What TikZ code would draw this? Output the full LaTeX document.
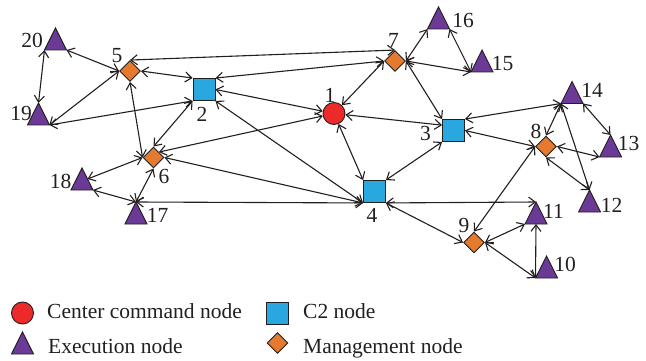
\documentclass[tikz,border=0pt]{standalone}
\usepackage{fontspec}
\setmainfont{Liberation Serif}
\usetikzlibrary{shapes.geometric,arrows.meta,backgrounds}
\definecolor{cred}{HTML}{EC2A2A}
\definecolor{cblue}{HTML}{29A8E0}
\definecolor{cpurple}{HTML}{6B3A97}
\definecolor{corange}{HTML}{E47A2E}
\definecolor{cline}{HTML}{231F20}
\begin{document}
\begin{tikzpicture}[x=1pt,y=-1pt,
  every node/.style={font=\fontsize{21.5}{24}\selectfont, text=cline},
  lbl/.style={inner sep=0pt},
  legtxt/.style={inner sep=0pt, anchor=base west},
  cc/.style={circle, draw=cline, line width=0.9pt, fill=cred, minimum size=22pt, inner sep=0pt},
  c2/.style={rectangle, draw=cline, line width=0.9pt, fill=cblue, minimum size=22pt, inner sep=0pt},
  mg/.style={diamond, draw=cline, line width=0.9pt, fill=corange, minimum size=21pt, inner sep=0pt},
  lnk/.style={draw=cline, line width=1.1pt, {Straight Barb[length=6.5pt,width=10pt]}-{Straight Barb[length=6.5pt,width=10pt]}},
  tri/.pic={\filldraw[fill=cpurple, draw=cline, line width=0.9pt] (0,-11) -- (11,11) -- (-11,11) -- cycle;
     \coordinate (-a) at (0,-11); \coordinate (-l) at (-11,11); \coordinate (-r) at (11,11);
     \coordinate (-b) at (0,11); \coordinate (-e) at (5.5,0); \coordinate (-w) at (-5.5,0);}
]
\useasboundingbox (0,0) rectangle (646,361);

% command / C2 / management nodes
\node[cc] (n1) at (334,113.5) {};
\node[c2] (n2) at (204,89.5) {};
\node[c2] (n3) at (453.5,130.5) {};
\node[c2] (n4) at (374.5,191.5) {};
\node[mg] (n5) at (130,71) {};
\node[mg] (n6) at (153.5,157.5) {};
\node[mg] (n7) at (395,61) {};
\node[mg] (n8) at (546,146.5) {};
\node[mg] (n9) at (474,242.5) {};

% execution nodes
\pic (t10) at (546.5,267) {tri};
\pic (t11) at (536,213) {tri};
\pic (t12) at (589.5,201) {tri};
\pic (t13) at (610.5,146) {tri};
\pic (t14) at (572,92.5) {tri};
\pic (t15) at (482,61) {tri};
\pic (t16) at (438.5,18) {tri};
\pic (t17) at (136,213) {tri};
\pic (t18) at (82,179) {tri};
\pic (t19) at (38.5,114) {tri};
\pic (t20) at (55.5,39) {tri};

% labels
\node[lbl] (l1) at (330,95) {1};
\node[lbl] (l2) at (202,114.5) {2};
\node[lbl] (l3) at (425.5,133) {3};
\node[lbl] (l4) at (372,215) {4};
\node[lbl] (l5) at (117,56) {5};
\node[lbl] (l6) at (164,176.5) {6};
\node[lbl] (l7) at (393.5,40) {7};
\node[lbl] (l8) at (536,131.5) {8};
\node[lbl] (l9) at (464,225) {9};
\node[lbl] (l10) at (565,264.5) {10};
\node[lbl] (l11) at (553.5,211) {11};
\node[lbl] (l12) at (611.5,205) {12};
\node[lbl] (l13) at (628.5,143.5) {13};
\node[lbl] (l14) at (592,90) {14};
\node[lbl] (l15) at (502.5,63.5) {15};
\node[lbl] (l16) at (463,20) {16};
\node[lbl] (l17) at (157.5,215) {17};
\node[lbl] (l18) at (60.5,181.5) {18};
\node[lbl] (l19) at (21,113.5) {19};
\node[lbl] (l20) at (32,40) {20};

% connectors
\begin{scope}[on background layer]
\draw[lnk] (t20-r) -- (n5.west);
\draw[lnk] (t20-l) -- (t19-a);
\draw[lnk] (t19-r) -- (n5.west);
\draw[lnk] (t19-r) -- (n2.south west);
\draw[lnk] (n5.east) -- (n2.north west);
\draw[lnk] (n5.north) -- (n7.north);
\draw[lnk] (n2.north east) -- (n7.west);
\draw[lnk] (n2.east) -- (n1);
\draw[lnk] (n2.south east) -- (n4.south west);
\draw[lnk] (n5.south) -- (n6.west);
\draw[lnk] (n2.south west) -- (n6.north);
\draw[lnk] (n6.north east) -- (n1);
\draw[lnk] (n6.east) -- (n4.south west);
\draw[lnk] (n6.west) -- (t18-e);
\draw[lnk] (n6.south) -- (t17-a);
\draw[lnk] (t18-r) -- (t17-a);
\draw[lnk] (t17-a) -- (n4.south west);
\draw[lnk] (n4.south east) -- (t11-a);
\draw[lnk] (n4.south east) -- (n9.west);
\draw[lnk] (n1) -- (n4.north west);
\draw[lnk] (n3.south west) -- (n4.north east);
\draw[lnk] (n1) -- (n7.west);
\draw[lnk] (n1) -- (n3.155);
\draw[lnk] (n7.east) -- (n3.north west);
\draw[lnk] (n7.east) -- (t16-l);
\draw[lnk] (n7.east) -- (t15-l);
\draw[lnk] (t16-r) -- (t15-l);
\draw[lnk] (n3.north east) -- (t14-l);
\draw[lnk] (n3.east) -- (n8.west);
\draw[lnk] (t14-l) -- (n8.north);
\draw[lnk] (t14-r) -- (t13-a);
\draw[lnk] (t14-l) -- (t12-a);
\draw[lnk] (n8.east) -- (t13-l);
\draw[lnk] (n8.south) -- (t12-a);
\draw[lnk] (n8.west) -- (n9.north);
\draw[lnk] (n9.east) -- (t11-l);
\draw[lnk] (n9.east) -- (t10-l);
\draw[lnk] (t11-b) -- (t10-l);
\end{scope}

% legend
\node[cc] (k1) at (22.5,313) {};
\node[legtxt] (k1t) at (47,318) {Center command node};
\node[c2] (k2) at (277.5,313.5) {};
\node[legtxt] (k2t) at (303,318) {C2 node};
\pic (k3) at (22.5,343) {tri};
\node[legtxt] (k3t) at (48,353) {Execution node};
\node[mg] (k4) at (277.5,343) {};
\node[legtxt] (k4t) at (303,353) {Management node};
\end{tikzpicture}
\end{document}
